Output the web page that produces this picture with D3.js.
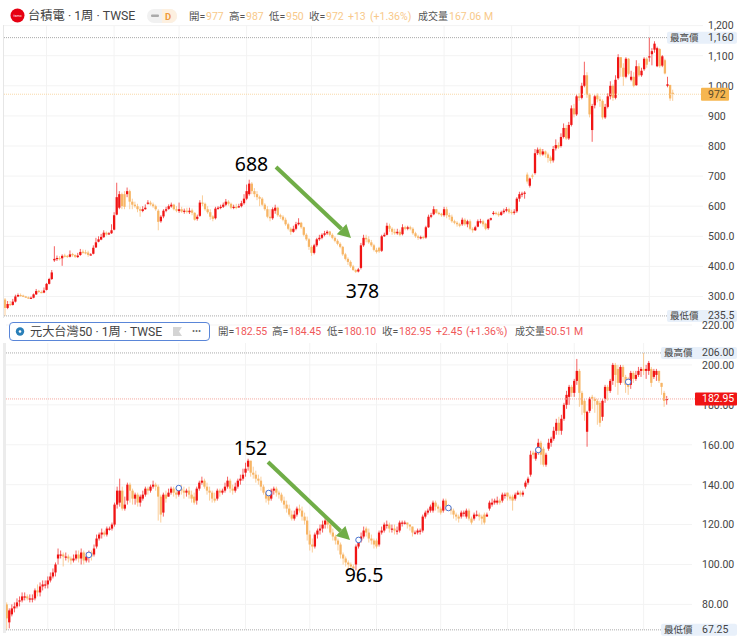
<!DOCTYPE html>
<html>
<head>
<meta charset="utf-8">
<script src="https://cdnjs.cloudflare.com/ajax/libs/d3/7.8.5/d3.min.js"></script>
<style>
  html, body { margin: 0; padding: 0; background: #fff; }
  svg { display: block; font-family: Roboto, "Noto Sans CJK TC", sans-serif; }
</style>
</head>
<body>
<svg id="chart" width="740" height="641"></svg>
<script>
// weekly candles, 258 bars per panel
const tsmcOpen = [
  290,262,275,272,283,300,305,303,300,297, 294,296,307,319,315,313,322,342,358,420,
  424,428,427,436,435,432,441,438,431,438, 449,447,446,439,442,463,482,489,497,512,
  507,510,522,572,595,640,640,640,650,615, 605,600,590,584,590,608,612,606,600,585,
  550,566,585,591,599,605,590,584,590,582, 585,580,586,578,558,568,612,608,590,580,
  566,560,593,594,598,605,615,608,595,598, 597,600,610,625,640,675,650,640,630,625,
  605,590,565,560,585,595,570,565,555,540, 525,515,525,540,545,530,505,490,465,445,
  470,490,495,505,510,516,505,495,485,475, 465,440,425,415,400,388,383,395,470,495,
  490,480,470,455,462,452,500,505,535,525, 515,510,515,507,530,525,530,525,510,500,
  495,498,496,530,565,573,590,578,575,570, 590,570,565,550,545,540,540,555,540,550,
  525,520,532,550,550,542,527,555,578,578, 575,571,580,585,590,581,578,583,625,642,
  642,705,668,702,710,776,790,772,782,772, 762,752,792,803,800,830,860,825,870,925,
  905,965,960,1000,1035,970,853,935,968,955, 950,895,930,965,1000,960,1025,1095,1060,1030,
  1090,1020,1030,1002,1065,1035,1055,1090,1095,1105, 1120,1065,1122,1067,1085,1000,1003,977
];
const tsmcClose = [
  262,275,272,283,300,305,303,300,298,295, 296,307,318,315,314,320,342,358,380,425,
  428,425,435,434,432,440,437,432,436,448, 446,445,438,440,462,480,490,498,512,506,
  510,520,570,630,640,600,598,650,615,605, 600,590,585,590,595,612,606,600,590,548,
  565,585,590,600,605,590,585,590,582,585, 582,585,578,555,565,612,608,590,580,565,
  558,592,595,598,605,615,608,595,598,597, 600,610,625,650,675,650,640,630,625,605,
  590,565,560,590,595,570,565,555,540,525, 515,525,540,545,530,505,490,465,445,470,
  490,495,505,510,515,505,495,485,475,465, 440,425,415,400,388,382,390,470,495,490,
  480,470,455,448,450,500,505,535,525,515, 510,515,505,530,525,530,525,510,500,495,
  497,495,530,565,570,590,578,575,570,590, 570,565,550,545,540,535,555,540,550,525,
  520,530,550,550,540,525,555,560,578,575, 570,580,585,590,580,578,582,625,640,642,
  645,682,692,698,776,788,772,782,772,760, 750,790,803,795,830,860,825,870,925,905,
  965,960,1000,1035,970,905,933,965,955,950, 895,930,965,1000,960,1020,1095,1060,1030,1090,
  1040,1030,1000,1065,1035,1050,1090,1070,1098,1115, 1140,1125,1065,1098,1041,1005,958,972
];
const tsmcHigh = [
  295,285,285,292,306,310,310,306,302,300, 300,310,325,322,320,330,345,362,388,467,
  436,434,440,442,438,453,445,440,445,458, 456,455,452,444,470,495,500,508,520,516,
  514,540,580,678,650,645,650,662,655,625, 615,608,598,600,606,620,618,612,605,590,
  570,590,598,606,612,608,600,612,598,592, 595,595,592,580,572,620,636,612,600,590,
  570,598,600,605,612,624,620,612,605,608, 608,618,640,672,688,680,660,650,635,630,
  610,600,590,596,605,598,575,570,562,545, 530,535,548,560,548,532,510,495,470,475,
  495,505,510,518,520,518,510,500,490,480, 468,445,430,420,405,392,395,478,505,505,
  500,488,475,462,465,505,512,545,542,530, 525,525,522,540,535,535,535,530,515,505,
  502,502,535,572,578,600,590,582,578,598, 598,578,572,555,550,545,562,560,555,556,
  530,535,556,558,555,545,558,562,584,582, 582,585,592,597,595,588,590,630,648,648,
  650,712,695,708,790,795,795,790,785,778, 768,800,822,812,842,875,870,880,935,940,
  972,975,1010,1080,1045,975,940,970,975,965, 955,940,975,1015,1005,1035,1105,1095,1075,1095,
  1092,1050,1045,1085,1075,1060,1095,1095,1160,1125, 1148,1130,1125,1102,1090,1030,1003,987
];
const tsmcLow = [
  235.5,258,268,270,280,298,300,298,295,292, 292,294,305,312,311,311,320,340,355,415,
  418,420,402,430,428,430,432,428,428,435, 442,440,432,436,440,461,480,487,495,502,
  505,508,520,570,590,590,590,630,590,590, 595,580,565,580,588,605,602,595,585,520,
  545,560,580,588,595,586,580,578,578,575, 576,574,570,552,552,565,600,585,575,555,
  550,556,588,590,594,600,602,590,590,590, 594,596,605,620,635,640,630,620,600,600,
  585,560,550,555,575,565,558,550,535,520, 505,512,520,536,525,500,485,455,435,440,
  465,485,490,500,505,500,490,480,470,460, 435,420,405,395,385,378,380,390,465,480,
  475,465,450,443,445,448,498,503,515,505, 505,505,500,503,520,520,520,505,495,488,
  490,490,492,528,560,570,575,570,565,565, 560,555,545,540,532,530,535,535,530,520,
  512,518,530,542,532,520,522,552,570,570, 565,568,575,580,575,572,572,578,615,630,
  625,675,662,690,705,770,765,768,762,745, 742,745,785,790,795,825,820,820,865,895,
  900,950,955,995,960,895,814,925,945,930, 888,890,925,955,950,955,1020,1030,1000,1025,
  1035,1015,995,1000,1030,1030,1050,1060,1080,1068, 1110,1062,1060,1062,1038,995,950,950
];

const etfOpen = [
  80,71,75,78,79,82,82,84,84,83, 83,83,87,86,89,90,90,92,94,96,
  103,105,105,104,104,103,102,103,105,103, 106,102,104,106,105,109,113,115,116,115,
  118,118,120,130,131,137,128,132,140,137, 133,135,131,133,135,138,137,139,140,139,
  134,126,135,134,136,138,136,135,138,137, 136,137,135,134,132,138,141,142,139,137,
  136,133,133,137,136,137,139,142,138,137, 139,142,143,146,149,152,146,145,143,142,
  139,136,136,133,137,138,136,135,132,130, 128,125,123,125,128,127,124,122,115,110,
  109,115,117,118,120,122,120,116,114,112, 110,105,103,101,100,99,100,109,112,114,
  118,116,113,112,112,110,116,117,120,120, 118,118,117,117,121,121,121,120,119,116,
  116,117,117,124,126,127,127,131,129,128, 127,132,129,128,127,125,124,124,126,124,
  127,123,123,125,125,124,125,124,128,130, 131,131,132,132,135,136,134,134,133,135,
  136,135,139,141,145,156,153,157,161,158, 150,158,161,163,167,171,167,173,180,184,
  189,186,192,197,186,182,166.5,177,184,183, 182,181,174,183,189,187,192,200,198,191,
  199,194,193,190,196,193,195,197,198,197, 197,198,194,195,197,191,186,182.55
];
const etfClose = [
  73,77,78,79,81,82,84,84,83,83, 83,87,86,89,90,90,92,94,96,100,
  105,105,104,104,103,102,103,105,103,106, 102,104,105,104,108,113,115,116,115,118,
  118,120,130,137,137,128,130,140,137,133, 135,131,134,135,138,137,139,140,139,134,
  125,135,133,136,138,136,135,138,137,136, 137,135,133,131,138,141,142,139,137,136,
  133,132,137,136,137,139,142,138,137,139, 142,143,145,148,152,146,145,143,142,139,
  136,133,132,137,138,136,135,132,130,128, 125,123,125,128,127,124,122,115,110,109,
  115,117,118,120,122,120,116,114,112,110, 105,103,101,100,99,98,109,112,114,117,
  116,113,112,110,109,116,117,120,120,118, 118,117,117,121,121,121,120,119,116,116,
  117,117,124,126,127,129,131,129,128,126, 132,129,128,127,125,124,123,126,126,127,
  123,121,125,125,124,123,121,125,131,131, 132,132,131,135,135,134,133,132,135,136,
  135,136,141,143,155,155,156,161,155,150, 155,161,163,167,171,167,173,180,185,189,
  186,192,197,186,180,176,176.5,183,183,182, 180,171,182,189,187,192,200,195,191,199,
  194,190,189,196,193,195,197,198,197,198, 201,191,197,197,192,189,182,182.95
];
const etfHigh = [
  81,78,80,81,83,84,86,86,85,85, 85,88,90,91,92,92,94,96,98,101,
  108,107,106,106,105,104,105,107,107,108, 107,106,107,107,110,115,116,118,117,119,
  119,121,131,139,143,139,134,141,141,138, 136,136,135,137,139,139,140,142,141,140,
  135,136,137,138,139,139,138,139,140,139, 138,139,137,136,139,142,144,143,141,139,
  137,136,138,138,138,141,144,143,140,141, 143,145,148,151,153,152,149,147,145,144,
  140,137,137,138,139,139,137,136,134,132, 130,127,127,129,130,129,126,124,117,113,
  116,118,120,122,124,123,121,118,115,113, 111,106,104,102,101,100,110,113,116,119,
  119,118,115,113,113,117,119,121,122,121, 120,120,119,122,122,122,121,120,119,117,
  118,118,125,127,128,130,132,132,130,129, 133,133,130,129,128,126,125,127,127,128,
  128,124,126,127,126,125,126,126,132,133, 133,134,133,136,136,136,135,135,136,137,
  137,137,142,144,157,157,158,163,162,159, 156,163,164,169,173,174,175,181,187,190,
  190,193,203,198,187,183,177,184,185,184, 183,182,183,190,190,193,201,201,200,200,
  200,195,194,197,197,197,199,199,206,200, 202,199,198,198,197,191,187,184.45
];
const etfLow = [
  67.25,68,74,76,78,79,81,82,82,81, 81,82,84,84,87,88,88,91,93,94,
  100,103,99,102,101,100,101,102,101,100, 100,101,101,102,104,108,112,113,114,114,
  117,117,119,128,129,127,127,130,131,130, 130,129,129,132,134,135,136,138,137,122,
  121,124,131,134,135,134,133,134,135,133, 134,133,131,130,130,137,140,138,135,132,
  131,131,132,134,135,136,138,136,135,136, 138,140,142,144,147,144,143,141,140,137,
  135,131,130,132,135,134,133,131,128,126, 124,122,122,124,126,122,120,112,107,106,
  108,113,115,116,118,118,115,112,110,107, 103,100,99,98,97,96.5,97,108,111,113,
  114,111,110,108,108,109,115,116,118,116, 116,115,115,116,119,120,118,117,114,115,
  115,115,116,123,125,126,126,127,126,125, 126,127,127,125,123,122,121,123,124,123,
  122,120,122,124,122,120,120,124,127,129, 130,130,130,131,133,132,132,127,132,135,
  134,134,138,140,144,153,152,155,150,149, 149,157,159,162,165,165,165,172,178,180,
  184,184,190,179,175,172,159,176,178,176, 170,169,172,181,182,186,190,189,185,190,
  191,186,185,188,191,192,194,194,195,193, 195,189,193,192,191,185,179,180.10
];

// grid columns fall on the same weeks in both panels
const gridWeeks = [16, 42, 67, 93, 118, 144, 169, 195, 221, 248];

const tsmcTicks = [1200, 1100, 1000, 900, 800, 700, 600, 500, 400, 300];
const tsmcTickLabels = ['1,200', '1,100', '1,000', '900', '800', '700', '600', '500.0', '400.0', '300.0'];
const etfTicks = [220, 200, 180, 160, 140, 120, 100, 80];
const etfTickLabels = ['220.00', '200.00', '180.00', '160.00', '140.00', '120.00', '100.00', '80.00'];

// blue ex-dividend markers on the lower panel
const etfMarkerWeeks = [32, 67, 102, 137, 172, 207, 242];
const etfMarkerPrices = [104.8, 138.3, 135.8, 112.3, 128.3, 157.4, 191.5];

const svg = d3.select('#chart');
const RED = '#f01414';
const ORANGE = '#f7b565';

function addText(x, y, str, size, fill, anchor) {
  return svg.append('text')
    .attr('x', x).attr('y', y)
    .attr('font-size', size)
    .attr('fill', fill)
    .attr('text-anchor', anchor || 'start')
    .attr('dominant-baseline', 'central')
    .text(str);
}

function dottedLine(x1, x2, y, color) {
  svg.append('line')
    .attr('x1', x1).attr('x2', x2).attr('y1', y).attr('y2', y)
    .attr('stroke', color)
    .attr('stroke-width', 1)
    .attr('stroke-dasharray', '1 1');
}

function drawPanel(p) {
  const x = d3.scaleLinear().domain([0, 257]).range(p.xRange);
  const y = d3.scaleLinear().domain(p.yDomain).range(p.yRange);
  const g = svg.append('g');

  // vertical and horizontal grid
  g.selectAll('.vgrid').data(gridWeeks).join('line')
    .attr('class', 'vgrid')
    .attr('x1', d => x(d)).attr('x2', d => x(d))
    .attr('y1', p.gridTop).attr('y2', p.gridBottom)
    .attr('stroke', '#f3f3f3');
  g.selectAll('.hgrid').data(p.ticks).join('line')
    .attr('class', 'hgrid')
    .attr('x1', p.leftEdge).attr('x2', p.gridRight)
    .attr('y1', d => y(d)).attr('y2', d => y(d))
    .attr('stroke', '#f3f3f3');

  // right axis, labels only
  const axis = d3.axisRight(y)
    .tickValues(p.ticks)
    .tickSize(0)
    .tickPadding(0)
    .tickFormat((d, i) => p.tickLabels[i]);
  const axisG = g.append('g').attr('transform', `translate(${p.labelX},0)`).call(axis);
  axisG.select('.domain').remove();
  axisG.selectAll('text')
    .attr('font-size', 10.5)
    .attr('font-family', 'Roboto, sans-serif')
    .attr('fill', '#444');

  // high, low and last price lines
  dottedLine(p.leftEdge, p.badgeLeft, y(p.maxPrice), '#aaa');
  dottedLine(p.leftEdge, p.badgeLeft, y(p.minPrice), '#aaa');
  dottedLine(p.leftEdge, p.lastBadge[0], y(p.lastPrice), p.lastLine);

  // candles
  const bars = d3.range(p.open.length);
  g.selectAll('.wick').data(bars).join('line')
    .attr('class', 'wick')
    .attr('x1', i => x(i)).attr('x2', i => x(i))
    .attr('y1', i => y(p.high[i])).attr('y2', i => y(p.low[i]))
    .attr('stroke', i => p.close[i] >= p.open[i] ? RED : ORANGE)
    .attr('stroke-opacity', 0.75)
    .attr('stroke-width', 0.9);
  g.selectAll('.body').data(bars).join('rect')
    .attr('class', 'body')
    .attr('x', i => x(i) - 1.15)
    .attr('width', 2.3)
    .attr('y', i => y(Math.max(p.open[i], p.close[i])))
    .attr('height', i => Math.max(1.2, Math.abs(y(p.open[i]) - y(p.close[i]))))
    .attr('fill', i => p.close[i] >= p.open[i] ? RED : ORANGE);

  // badges on the price axis
  [[p.maxPrice, p.maxLabel, '最高價'], [p.minPrice, p.minLabel, '最低價']].forEach(b => {
    const cy = y(b[0]);
    svg.append('rect')
      .attr('x', p.badgeLeft).attr('y', cy - 6)
      .attr('width', 737 - p.badgeLeft).attr('height', 12)
      .attr('rx', 2)
      .attr('fill', '#e8f0fa');
    addText(p.badgeLeft + 3, cy, b[2], 9.5, '#444');
    addText(p.labelX, cy, b[1], 10.5, '#444');
  });
  const cy = y(p.lastPrice);
  svg.append('rect')
    .attr('x', p.lastBadge[0]).attr('y', cy - 6.5)
    .attr('width', p.lastBadge[1]).attr('height', 13)
    .attr('rx', 1)
    .attr('fill', p.lastFill);
  addText(p.labelX, cy, p.lastLabel, 10.5, p.lastText);

  return { x, y };
}

drawPanel({
  open: tsmcOpen, close: tsmcClose, high: tsmcHigh, low: tsmcLow,
  xRange: [5, 672.7], yDomain: [300, 1200], yRange: [296.5, 25.6],
  ticks: tsmcTicks, tickLabels: tsmcTickLabels,
  leftEdge: 4, gridTop: 25, gridBottom: 316, gridRight: 703, labelX: 708,
  badgeLeft: 667, maxPrice: 1160, maxLabel: '1,160', minPrice: 235.5, minLabel: '235.5',
  lastPrice: 972, lastLabel: '972', lastLine: '#f8d9a8', lastFill: '#f6b650', lastText: '#5a4a2a',
  lastBadge: [701, 28]
});

const etfPanel = drawPanel({
  open: etfOpen, close: etfClose, high: etfHigh, low: etfLow,
  xRange: [6.7, 666.7], yDomain: [80, 220], yRange: [604.4, 325],
  ticks: etfTicks, tickLabels: etfTickLabels,
  leftEdge: 6, gridTop: 343, gridBottom: 630, gridRight: 692, labelX: 702,
  badgeLeft: 661, maxPrice: 206, maxLabel: '206.00', minPrice: 67.25, minLabel: '67.25',
  lastPrice: 182.95, lastLabel: '182.95', lastLine: '#f5a9a0', lastFill: '#f01414', lastText: '#fff',
  lastBadge: [695, 42]
});

// left rails
svg.append('line').attr('x1', 3.5).attr('x2', 3.5).attr('y1', 25).attr('y2', 318).attr('stroke', '#e6e6e6');
svg.append('rect').attr('x', 3).attr('y', 343).attr('width', 3).attr('height', 290).attr('fill', '#ececec');

svg.selectAll('.marker').data(etfMarkerWeeks).join('circle')
  .attr('class', 'marker')
  .attr('cx', d => etfPanel.x(d))
  .attr('cy', (d, i) => etfPanel.y(etfMarkerPrices[i]))
  .attr('r', 2.8)
  .attr('fill', '#fff')
  .attr('stroke', '#4a74d0')
  .attr('stroke-width', 1);

// top legend
svg.append('circle').attr('cx', 17.5).attr('cy', 15.5).attr('r', 7).attr('fill', '#e60012');
addText(17.5, 15.7, 'tsmc', 3.6, '#fff', 'middle');
addText(28, 15.5, '台積電 · 1周 · TWSE', 12.3, '#444');
svg.append('rect').attr('x', 147).attr('y', 9).attr('width', 30).attr('height', 14).attr('rx', 7).attr('fill', '#f1f1f1');
svg.append('path').attr('d', 'M162 9 H170 A7 7 0 0 1 170 23 H162 Z').attr('fill', '#fdf0e0');
svg.append('rect').attr('x', 151).attr('y', 14.5).attr('width', 8).attr('height', 2.5).attr('rx', 1).attr('fill', '#aaa');
addText(165, 16, 'D', 9.5, '#ef9a3c').attr('font-weight', 700);

const labelGrey = '#555';
const topOrange = '#f8c98a';
[[189, '開='], [229, '高='], [269, '低='], [309, '收=']].forEach(d => addText(d[0], 16, d[1], 10.5, labelGrey));
[[206, '977'], [246, '987'], [286, '950'], [326, '972'], [348, '+13'], [370, '(+1.36%)'], [449, '167.06 M']]
  .forEach(d => addText(d[0], 16, d[1], 10.5, topOrange));
addText(418, 16, '成交量', 10, labelGrey);

// bottom legend
svg.append('rect').attr('x', 9.5).attr('y', 322.5).attr('width', 200).attr('height', 18).attr('rx', 3.5)
  .attr('fill', '#fff').attr('stroke', '#5a86d8').attr('stroke-width', 1);
svg.append('circle').attr('cx', 20).attr('cy', 331.5).attr('r', 4.2).attr('fill', '#2a7fb8');
svg.append('circle').attr('cx', 20).attr('cy', 331.5).attr('r', 1.3).attr('fill', '#fff');
addText(30, 331.5, '元大台灣50 · 1周 · TWSE', 12.2, '#444');
svg.append('path').attr('d', 'M173 327 H182 L179 331.5 L182 336 H173 Z').attr('fill', '#d4d4d4');
addText(192, 330.5, '•••', 9, '#666');

const etfRed = '#f0585a';
[[218, '開='], [272, '高='], [327, '低='], [382, '收=']].forEach(d => addText(d[0], 331.5, d[1], 10.5, labelGrey));
[[235, '182.55'], [289, '184.45'], [344, '180.10'], [399, '182.95'], [436, '+2.45'], [466, '(+1.36%)'], [545, '50.51 M']]
  .forEach(d => addText(d[0], 331.5, d[1], 10.5, etfRed));
addText(515, 331.5, '成交量', 10, labelGrey);

// hand annotations
const noteFont = '"Noto Sans", sans-serif';
const noteValues = ['688', '378', '152', '96.5'];
const noteX = [251.5, 362.5, 250.5, 364];
const noteY = [163, 290, 447, 574];
noteValues.forEach((d, i) => addText(noteX[i], noteY[i], d, 19.5, '#000', 'middle').attr('font-family', noteFont));

function greenArrow(x1, y1, x2, y2) {
  const angle = Math.atan2(y2 - y1, x2 - x1);
  const headLen = 13;
  const neckX = x2 - headLen * Math.cos(angle);
  const neckY = y2 - headLen * Math.sin(angle);
  svg.append('line')
    .attr('x1', x1).attr('y1', y1).attr('x2', neckX).attr('y2', neckY)
    .attr('stroke', '#70ad47').attr('stroke-width', 4);
  const nx = -Math.sin(angle) * 7;
  const ny = Math.cos(angle) * 7;
  svg.append('path')
    .attr('d', `M${x2},${y2} L${neckX + nx},${neckY + ny} L${neckX - nx},${neckY - ny} Z`)
    .attr('fill', '#70ad47');
}
greenArrow(276, 167, 351, 238);
greenArrow(268, 462, 350, 540);
</script>
</body>
</html>
